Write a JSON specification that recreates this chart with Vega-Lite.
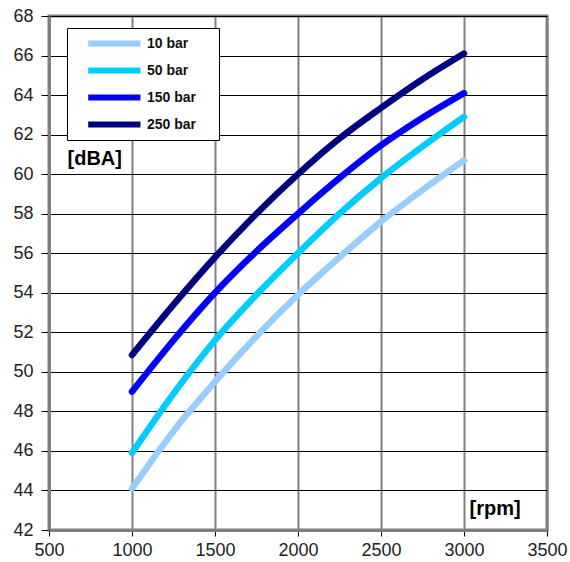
{
  "$schema": "https://vega.github.io/schema/vega-lite/v6.json",
  "autosize": "none",
  "width": 498,
  "height": 514,
  "padding": {"left": 49, "top": 16, "right": 23, "bottom": 32},
  "background": "white",
  "data": {"values": [
    {"rpm": 1000, "dBA": 44.1, "series": "10 bar"},
    {"rpm": 1250, "dBA": 47.0, "series": "10 bar"},
    {"rpm": 1500, "dBA": 49.5, "series": "10 bar"},
    {"rpm": 1750, "dBA": 51.8, "series": "10 bar"},
    {"rpm": 2000, "dBA": 53.9, "series": "10 bar"},
    {"rpm": 2250, "dBA": 55.8, "series": "10 bar"},
    {"rpm": 2500, "dBA": 57.6, "series": "10 bar"},
    {"rpm": 2750, "dBA": 59.2, "series": "10 bar"},
    {"rpm": 3000, "dBA": 60.7, "series": "10 bar"},
    {"rpm": 1000, "dBA": 45.9, "series": "50 bar"},
    {"rpm": 1250, "dBA": 48.9, "series": "50 bar"},
    {"rpm": 1500, "dBA": 51.6, "series": "50 bar"},
    {"rpm": 1750, "dBA": 53.9, "series": "50 bar"},
    {"rpm": 2000, "dBA": 56.0, "series": "50 bar"},
    {"rpm": 2250, "dBA": 58.0, "series": "50 bar"},
    {"rpm": 2500, "dBA": 59.8, "series": "50 bar"},
    {"rpm": 2750, "dBA": 61.4, "series": "50 bar"},
    {"rpm": 3000, "dBA": 62.9, "series": "50 bar"},
    {"rpm": 1000, "dBA": 49.0, "series": "150 bar"},
    {"rpm": 1250, "dBA": 51.6, "series": "150 bar"},
    {"rpm": 1500, "dBA": 54.0, "series": "150 bar"},
    {"rpm": 1750, "dBA": 56.1, "series": "150 bar"},
    {"rpm": 2000, "dBA": 58.0, "series": "150 bar"},
    {"rpm": 2250, "dBA": 59.8, "series": "150 bar"},
    {"rpm": 2500, "dBA": 61.45, "series": "150 bar"},
    {"rpm": 2750, "dBA": 62.85, "series": "150 bar"},
    {"rpm": 3000, "dBA": 64.1, "series": "150 bar"},
    {"rpm": 1000, "dBA": 50.85, "series": "250 bar"},
    {"rpm": 1250, "dBA": 53.4, "series": "250 bar"},
    {"rpm": 1500, "dBA": 55.8, "series": "250 bar"},
    {"rpm": 1750, "dBA": 58.0, "series": "250 bar"},
    {"rpm": 2000, "dBA": 60.0, "series": "250 bar"},
    {"rpm": 2250, "dBA": 61.8, "series": "250 bar"},
    {"rpm": 2500, "dBA": 63.35, "series": "250 bar"},
    {"rpm": 2750, "dBA": 64.8, "series": "250 bar"},
    {"rpm": 3000, "dBA": 66.1, "series": "250 bar"}
  ]},
  "mark": {"type": "line", "strokeWidth": 6.5, "interpolate": "monotone", "strokeCap": "round"},
  "encoding": {
    "x": {
      "field": "rpm", "type": "quantitative",
      "scale": {"domain": [500, 3500], "nice": false, "zero": false},
      "axis": {
        "values": [500, 1000, 1500, 2000, 2500, 3000, 3500],
        "format": "d",
        "title": "[rpm]",
        "titleX": 420, "titleY": -22, "titleAlign": "left", "titleBaseline": "middle",
        "titleFontSize": 20, "titleFontWeight": "bold", "titleFont": "Liberation Sans", "titleColor": "#000",
        "grid": true, "gridColor": "#808080", "gridWidth": 2,
        "domainColor": "#808080", "domainWidth": 3,
        "tickColor": "#000", "tickSize": 6, "tickWidth": 1,
        "labelFontSize": 18, "labelFont": "Liberation Sans", "labelColor": "#222", "labelPadding": 5,
        "labelFlush": false
      }
    },
    "y": {
      "field": "dBA", "type": "quantitative",
      "scale": {"domain": [42, 68], "nice": false, "zero": false},
      "axis": {
        "values": [42, 44, 46, 48, 50, 52, 54, 56, 58, 60, 62, 64, 66, 68],
        "title": "[dBA]",
        "titleX": 18, "titleY": 142, "titleAngle": 0, "titleAlign": "left", "titleBaseline": "middle",
        "titleFontSize": 20, "titleFontWeight": "bold", "titleFont": "Liberation Sans", "titleColor": "#000",
        "grid": true, "gridColor": "#000", "gridWidth": 1,
        "domainColor": "#808080", "domainWidth": 3,
        "tickColor": "#000", "tickSize": 8, "tickWidth": 1,
        "labelFontSize": 18, "labelFont": "Liberation Sans", "labelColor": "#222", "labelPadding": 8,
        "labelFlush": false
      }
    },
    "color": {
      "field": "series", "type": "nominal",
      "scale": {"domain": ["10 bar", "50 bar", "150 bar", "250 bar"], "range": ["#99CCFF", "#00CCFF", "#0000FF", "#000080"]},
      "legend": {
        "orient": "none", "legendX": 18, "legendY": 12,
        "title": null,
        "fillColor": "white", "strokeColor": "#000", "cornerRadius": 0,
        "padding": 3,
        "symbolType": "M0.6,0H6.1", "symbolSize": 361, "symbolStrokeWidth": 6,
        "labelFontSize": 14, "labelFont": "Liberation Sans", "labelFontWeight": "bold", "labelColor": "#111",
        "labelExpr": "datum.label + '\u00a0\u00a0\u00a0\u00a0\u00a0\u200b'",
        "labelOffset": 52, "rowPadding": 2
      }
    }
  },
  "config": {
    "view": {"stroke": "#808080", "strokeWidth": 3}
  }
}
